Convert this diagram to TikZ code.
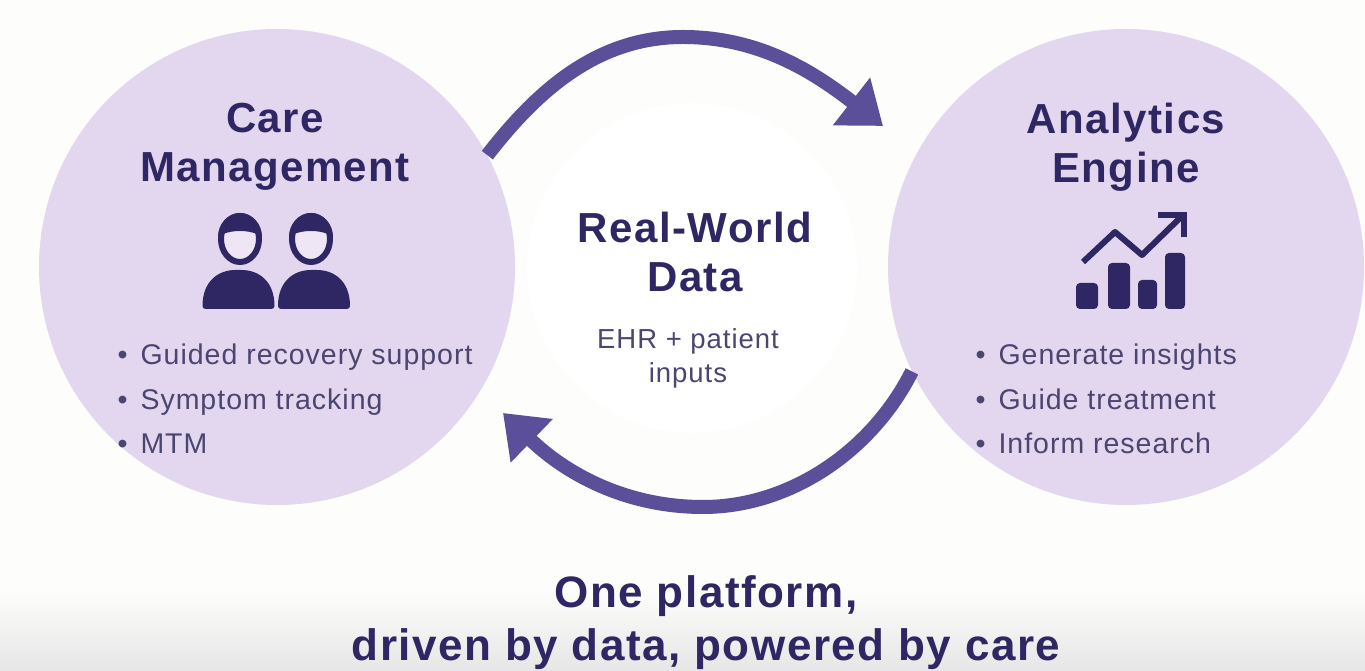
\documentclass[tikz,border=0pt]{standalone}
\usepackage{fontspec}
\setmainfont{Liberation Sans}
\newfontfamily\spacedfont[LetterSpace=3.5]{Liberation Sans}
\usepackage{xcolor}
\usetikzlibrary{arrows.meta}
\definecolor{pagewhite}{HTML}{FDFDFC}
\definecolor{bandgrey}{HTML}{E6E6E6}
\definecolor{circlelilac}{HTML}{E3D6EF}
\definecolor{arcpurple}{HTML}{5A4F98}
\definecolor{inknavy}{HTML}{2F2763}
\definecolor{bodygrey}{HTML}{4B4670}
\tikzset{
	hub/.style={circle,fill=circlelilac,minimum size=476pt,inner sep=0pt},
	headline/.style={align=center,text=inknavy,font=\spacedfont\fontsize{42}{49}\selectfont\bfseries},
	bullets/.style={anchor=west,align=left,text=bodygrey,font=\spacedfont\fontsize{28.5}{44.5}\selectfont},
	looparc/.style={line width=14pt,arcpurple,-{Triangle[length=40pt,width=58pt]}},
}
\begin{document}
\begin{tikzpicture}[x=1pt,y=1pt]
	\useasboundingbox (0,0) rectangle (1365,671);
	\fill[pagewhite] (0,0) rectangle (1365,671);
	\shade[top color=pagewhite,bottom color=bandgrey] (0,0) rectangle (1365,80);
	% the three circles
	\node[hub] (care) at (277,404) {};
	\node[hub] (engine) at (1126,404) {};
	\node[circle,fill=white,minimum size=330pt,inner sep=0pt] (data) at (692,403) {};
	% loop
	\coordinate (topmid) at (683,634);
	\coordinate (topend) at (883,545);
	\coordinate (lowmid) at (703,164);
	\coordinate (lowend) at (503,258);
	\draw[looparc] (care.28) .. controls (540,584) and (600,634) .. (topmid) .. controls (760,634) and (815,598) .. (topend);
	\draw[looparc] (engine.206) .. controls (872,220) and (790,164) .. (lowmid) .. controls (625,164) and (565,198) .. (lowend);
	% texts
	\node[headline] (caretitle) at (275,524) {Care\\Management};
	\node[headline] (enginetitle) at (1126,524) {Analytics\\Engine};
	\node[headline] (datatitle) at (695,419) {Real-World\\Data};
	\node[align=center,text=bodygrey,font=\spacedfont\fontsize{27.5}{34}\selectfont] (datatext) at (688,313) {EHR + patient\\inputs};
	\node[bullets] (carelist) at (114,272) {•\hspace{13pt}Guided recovery support\\•\hspace{13pt}Symptom tracking\\•\hspace{13pt}MTM};
	\node[bullets] (enginelist) at (972,272) {•\hspace{13pt}Generate insights\\•\hspace{13pt}Guide treatment\\•\hspace{13pt}Inform research};
	\node[headline,font=\spacedfont\fontsize{44}{53}\selectfont\bfseries] (slogan) at (706,48) {One platform,\\driven by data, powered by care};
	% people icon
	\foreach \hx/\bx in {240/238.5,311/314}{
		\draw[inknavy,line width=6pt,fill=circlelilac!60!white] (\hx,432) ellipse (19pt and 23pt);
		\fill[inknavy] (\hx-22,434) arc (180:0:22pt and 24pt) .. controls (\hx+12,442) and (\hx-12,442) .. cycle;
		\fill[inknavy,rounded corners=3pt] (\bx-36,362) .. controls (\bx-36,390) and (\bx-20,401) .. (\bx,401) .. controls (\bx+20,401) and (\bx+36,390) .. (\bx+36,362) -- cycle;
	}
	% chart icon
	\fill[inknavy,rounded corners=4pt] (1076,362) rectangle (1098,388);
	\fill[inknavy,rounded corners=4pt] (1108,362) rectangle (1130,408);
	\fill[inknavy,rounded corners=4pt] (1138,362) rectangle (1157,391);
	\fill[inknavy,rounded corners=4pt] (1165,362) rectangle (1185,418);
	\draw[inknavy,line width=6pt,line join=round] (1083,409) -- (1115,439) -- (1142,416) -- (1182,455);
	\draw[inknavy,line width=6pt,line join=miter] (1158,456) -- (1184,456) -- (1184,434);
\end{tikzpicture}
\end{document}
